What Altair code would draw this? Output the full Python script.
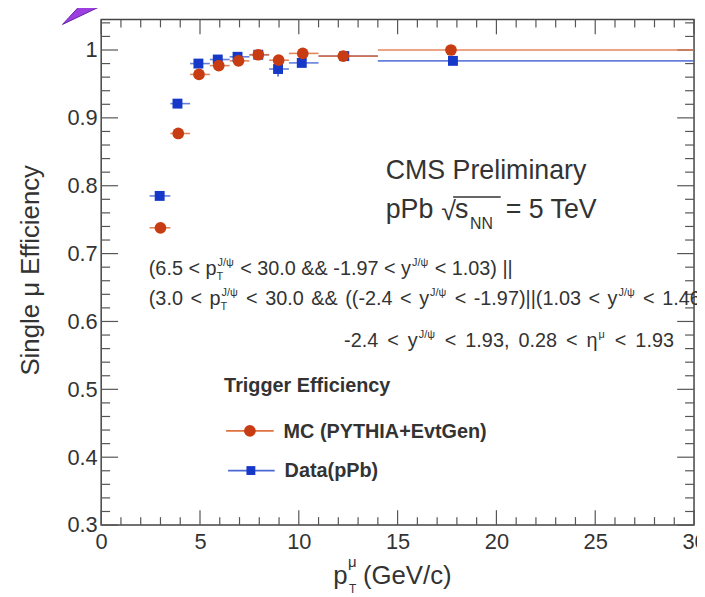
import altair as alt
import pandas as pd

# ---------------- data ----------------
series_names = ["MC (PYTHIA+EvtGen)", "Data(pPb)"]
bin_lo = [2.45, 3.5, 4.5, 5.5, 6.5, 7.5, 8.5, 9.5, 11.0, 14.0]
bin_hi = [3.5, 4.5, 5.5, 6.5, 7.5, 8.5, 9.5, 11.0, 14.0, 30.0]

mc_pt = [3.0, 3.9, 4.95, 5.95, 6.95, 7.95, 8.98, 10.2, 12.25, 17.7]
mc_eff = [0.738, 0.877, 0.964, 0.977, 0.984, 0.993, 0.985, 0.995, 0.991, 1.000]
mc_err = [0.004, 0.003, 0.003, 0.003, 0.003, 0.003, 0.004, 0.003, 0.003, 0.003]

data_pt = [2.96, 3.86, 4.92, 5.9, 6.9, 7.95, 8.95, 10.15, 12.3, 17.8]
data_eff = [0.785, 0.921, 0.980, 0.986, 0.990, 0.993, 0.972, 0.981, 0.991, 0.984]
data_err = [0.004, 0.003, 0.003, 0.003, 0.003, 0.003, 0.011, 0.004, 0.003, 0.003]

x_major = [0, 5, 10, 15, 20, 25, 30]
y_major = [0.3, 0.4, 0.5, 0.6, 0.7, 0.8, 0.9, 1.0]

RED = "#c83c14"
BLUE = "#1638c8"
RED_LINE = "#e0703e"
BLUE_LINE = "#4a68d4"
FONT = "Liberation Sans"
TXT = "#333333"

W, H = 598, 510
PX0, PY0 = 102, 17  # page offset of plot origin

xs = alt.Scale(domain=[0, 30], nice=False, zero=False)
ys = alt.Scale(domain=[0.3, 1.045], nice=False, zero=False)

xaxis = alt.Axis(values=x_major, title=None, labelFontSize=22, labelPadding=7, labelColor=TXT,
                 labelFont=FONT, ticks=False, domain=False, grid=False, format="d",
                 labelFlush=False)
yaxis = alt.Axis(values=y_major, title=None, labelFontSize=22, labelPadding=4, labelColor=TXT,
                 labelFont=FONT, ticks=False, domain=False, grid=False,
                 labelExpr="datum.value == 1 ? '1' : format(datum.value, '.1f')")


def X(field):
    return alt.X(field, scale=xs, axis=xaxis, title=None)


def Y(field):
    return alt.Y(field, scale=ys, axis=yaxis, title=None)


rows = []
for name, pts, effs, errs in [
    ("Data(pPb)", data_pt, data_eff, data_err),
    ("MC (PYTHIA+EvtGen)", mc_pt, mc_eff, mc_err),
]:
    for p, e, er, lo, hi in zip(pts, effs, errs, bin_lo, bin_hi):
        rows.append(dict(series=name, pt=p, eff=e, lo=lo, hi=hi, elo=e - er, ehi=e + er))
df = pd.DataFrame(rows)

xerr = alt.Chart(df).mark_rule(strokeWidth=1.6, opacity=0.85).encode(
    x=X("lo:Q"), x2="hi:Q", y=Y("eff:Q"),
    color=alt.Color("series:N", scale=alt.Scale(domain=series_names, range=[RED_LINE, BLUE_LINE]), legend=None),
)
yerr = alt.Chart(df).mark_rule(strokeWidth=1.6).encode(
    x=X("pt:Q"), y=Y("elo:Q"), y2="ehi:Q",
    color=alt.Color("series:N", scale=alt.Scale(domain=series_names, range=[RED, BLUE]), legend=None),
)
pts_blue = alt.Chart(df[df.series == "Data(pPb)"]).mark_point(
    shape="square", filled=True, size=100, color=BLUE, opacity=1).encode(x=X("pt:Q"), y=Y("eff:Q"))
pts_red = alt.Chart(df[df.series == "MC (PYTHIA+EvtGen)"]).mark_point(
    shape="circle", filled=True, size=140, color=RED, opacity=1).encode(x=X("pt:Q"), y=Y("eff:Q"))

# ---------------- inward frame ticks ----------------
x_minor = [v for v in range(0, 31) if v % 5 != 0]
y_minor = [round(0.3 + 0.02 * i, 2) for i in range(0, 38)]
y_minor = [v for v in y_minor if abs(v * 10 - round(v * 10)) > 1e-6]

TICK = "#555555"


def xticks(vals, length):
    d = pd.DataFrame({"v": vals})
    bot = alt.Chart(d).mark_rule(color=TICK, strokeWidth=1.2).encode(
        x=X("v:Q"), y=alt.value(H), y2=alt.value(H - length))
    top = alt.Chart(d).mark_rule(color=TICK, strokeWidth=1.2).encode(
        x=X("v:Q"), y=alt.value(0), y2=alt.value(length))
    return [bot, top]


def yticks(vals, length):
    d = pd.DataFrame({"v": vals})
    left = alt.Chart(d).mark_rule(color=TICK, strokeWidth=1.2).encode(
        y=Y("v:Q"), x=alt.value(0), x2=alt.value(length))
    right = alt.Chart(d).mark_rule(color=TICK, strokeWidth=1.2).encode(
        y=Y("v:Q"), x=alt.value(W), x2=alt.value(W - length))
    return [left, right]


tick_layers = xticks(x_major, 15) + xticks(x_minor, 8) + yticks(y_major, 17) + yticks(y_minor, 9)


# ---------------- text helpers ----------------
def txt(s, px, py, size, weight="normal", align="left", baseline="alphabetic", color=TXT, angle=0):
    return alt.Chart(alt.Data(values=[{}])).mark_text(
        align=align, baseline=baseline, fontSize=size, fontWeight=weight, font=FONT,
        color=color, angle=angle).encode(
        x=alt.value(px - PX0), y=alt.value(py - PY0), text=alt.value(s))


def hline(px1, px2, py, color, width=1.5):
    return alt.Chart(alt.Data(values=[{}])).mark_rule(color=color, strokeWidth=width).encode(
        x=alt.value(px1 - PX0), x2=alt.value(px2 - PX0), y=alt.value(py - PY0))


def marker(px, py, shape, size, color):
    return alt.Chart(alt.Data(values=[{}])).mark_point(
        shape=shape, filled=True, size=size, color=color, opacity=1).encode(
        x=alt.value(px - PX0), y=alt.value(py - PY0))


# approximate Arial/Liberation Sans advance widths (per em) for flowing text
ADV = {" ": .278, "(": .333, ")": .333, ".": .278, ",": .278, "<": .584, "=": .584, "&": .667,
       "-": .333, "|": .26, "p": .556, "y": .5, "η": .556, "T": .611, "J": .5, "/": .278,
       "ψ": .70, "μ": .576}


def width(s, size):
    return sum(ADV.get(c, .556) for c in s) * size


texts = []
# axis titles
texts.append(txt("Single μ Efficiency", 31, 270, 26, align="center", baseline="middle", angle=270))
texts.append(txt("p", 336, 586, 26))
texts.append(txt("μ", 351, 569, 15))
texts.append(txt("T", 352, 596, 12))
texts.append(txt("(GeV/c)", 366, 586, 26))

# CMS labels
texts.append(txt("CMS Preliminary", 389, 178, 27))
texts.append(txt("pPb", 389, 217, 27))
texts.append(txt("√", 445, 219, 27))
texts.append(txt("s", 459, 217, 27))
texts.append(hline(457, 505, 196, TXT, 1.5))
texts.append(txt("NN", 474, 228, 16))
texts.append(txt("= 5 TeV", 510, 217, 27))

# selection text, flowed token by token (spaces widened by `space` px)
S, SS = 20, 11


def sel_line(base, x0, space, segs):
    out = []
    x = x0
    for kind, s in segs:
        if kind == "m":
            for i, tok in enumerate(s.split(" ")):
                if i > 0:
                    x += ADV[" "] * S + space
                if tok:
                    out.append(txt(tok, x, base, S))
                    x += width(tok, S)
        elif kind == "supsub":  # superscript + subscript stacked
            sup, sub = s
            out.append(txt(sup, x + 1, base - 9, SS))
            out.append(txt(sub, x, base + 5, SS))
            x += max(width(sup, SS), width(sub, SS)) + 2
        else:
            out.append(txt(s, x + 1, base - 9, SS))
            x += width(s, SS) + 2
    return out


texts += sel_line(275, 150, 0.0, [
    ("m", "(6.5 < p"), ("supsub", ("J/ψ", "T")),
    ("m", " < 30.0 && -1.97 < y"), ("sup", "J/ψ"),
    ("m", " < 1.03) ||"),
])
texts += sel_line(305, 150, 2.0, [
    ("m", "(3.0 < p"), ("supsub", ("J/ψ", "T")),
    ("m", " < 30.0 && ((-2.4 < y"), ("sup", "J/ψ"),
    ("m", " < -1.97)||(1.03 < y"), ("sup", "J/ψ"),
    ("m", " < 1.46)"),
])
texts += sel_line(347, 347, 3.5, [
    ("m", "-2.4 < y"), ("sup", "J/ψ"),
    ("m", " < 1.93, 0.28 < η"), ("sup", "μ"),
    ("m", " < 1.93"),
])

# legend
texts.append(txt("Trigger Efficiency", 226, 387, 20, weight="bold", baseline="middle"))
texts.append(hline(228, 276, 432, RED_LINE, 1.8))
texts.append(marker(252, 432, "circle", 140, RED))
texts.append(txt("MC (PYTHIA+EvtGen)", 286, 433, 20, weight="bold", baseline="middle"))
texts.append(hline(230, 277, 472, BLUE_LINE, 1.8))
texts.append(marker(253, 472, "square", 80, BLUE))
texts.append(txt("Data(pPb)", 287, 473, 20, weight="bold", baseline="middle"))

# purple slide pointer (decoration)
arrow = alt.Chart(alt.Data(values=[{}])).mark_point(
    shape="M -21 15 L 21 -5 L 4 -12 Z", size=4, filled=True, color="#9b3fe0",
    stroke="#6a1fa8", strokeWidth=1, opacity=1).encode(
    x=alt.value(84 - PX0), y=alt.value(7 - PY0))

chart = alt.layer(
    *tick_layers, xerr, yerr, pts_blue, pts_red, *texts, arrow
).properties(
    width=W, height=H,
    padding={"left": 94, "top": 9, "right": 3, "bottom": 70},
    autosize=alt.AutoSizeParams(type="none"),
    background="white",
).configure_view(stroke="#444444", strokeWidth=1.5)

chart.save("out.html", embed_options={"renderer": "svg", "actions": False})
